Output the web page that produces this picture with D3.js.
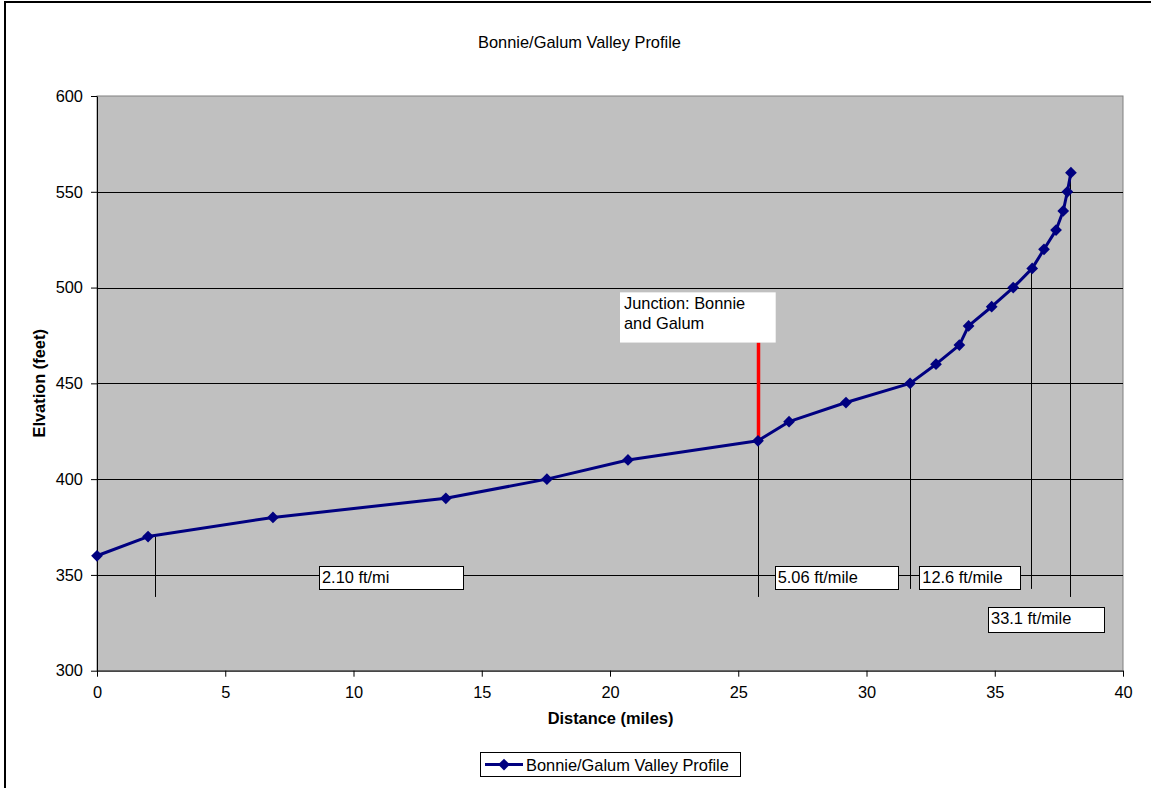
<!DOCTYPE html>
<html>
<head>
<meta charset="utf-8">
<script src="https://cdn.jsdelivr.net/npm/d3@7"></script>
<style>
  html, body { margin: 0; padding: 0; background: #fff; }
  svg { display: block; font-family: Arial, "Liberation Sans", sans-serif; }
</style>
</head>
<body>
<svg id="chart" width="1151" height="788"></svg>
<script>
// Valley profile: distance along the valley (miles) and elevation (feet)
const distance  = [0, 1.99, 6.86, 13.6, 17.54, 20.7, 25.77, 26.98, 29.2, 31.7, 32.71,
                   33.62, 33.98, 34.88, 35.72, 36.46, 36.92, 37.39, 37.67, 37.83, 37.97];
const elevation = [360, 370, 380, 390, 400, 410, 420, 430, 440, 450, 460,
                   470, 480, 490, 500, 510, 520, 530, 540, 550, 560];

const xTicks = [0, 5, 10, 15, 20, 25, 30, 35, 40];
const yTicks = [300, 350, 400, 450, 500, 550, 600];

// Gradient segment markers (miles, top elevation, bottom elevation)
const markerX   = [2.26, 25.77, 31.7, 36.42, 37.93];
const markerTop = [370, 420, 450, 510, 557];
const markerBot = [338.5, 338.5, 342.7, 342.7, 338.5];

// Gradient labels: text, left/right miles, top/bottom elevation
const slopeText  = ["2.10 ft/mi", "5.06 ft/mile", "12.6 ft/mile", "33.1 ft/mile"];
const slopeX0    = [8.655, 26.42, 32.06, 34.74];
const slopeX1    = [14.28, 31.2, 36.01, 39.27];
const slopeYTop  = [354.8, 354.8, 354.8, 333.4];
const slopeYBot  = [342.6, 342.6, 342.6, 320.4];

// Junction callout
const junctionLines = ["Junction: Bonnie", "and Galum"];
const junctionBox = { x0: 20.39, x1: 26.46, yTop: 497.5, yBot: 471.3 };
const junctionMile = 25.77, junctionElev = 420;

const seriesName = "Bonnie/Galum Valley Profile";

const svg = d3.select("#chart");
const FS = 16.4;

const x = d3.scaleLinear().domain([0, 40]).range([97, 1123]);
const y = d3.scaleLinear().domain([300, 600]).range([670.7, 96]);

// chart-area frame
svg.append("rect").attr("x", 5).attr("y", 2).attr("width", 1160).attr("height", 800)
  .attr("fill", "#fff").attr("stroke", "#000").attr("stroke-width", 2);

// title
svg.append("text").attr("x", 579.5).attr("y", 48.3).attr("text-anchor", "middle")
  .attr("font-size", FS).text(seriesName);

// plot area
svg.append("rect").attr("x", x(0)).attr("y", y(600))
  .attr("width", x(40) - x(0)).attr("height", y(300) - y(600))
  .attr("fill", "#c0c0c0").attr("stroke", "#808080").attr("stroke-width", 1);

// horizontal gridlines
svg.append("g").selectAll("line").data(yTicks.filter(d => d > 300 && d < 600)).join("line")
  .attr("x1", x(0)).attr("x2", x(40))
  .attr("y1", d => Math.round(y(d)) + 0.5).attr("y2", d => Math.round(y(d)) + 0.5)
  .attr("stroke", "#000").attr("stroke-width", 1);

// axes
const yAxis = svg.append("g").attr("transform", `translate(${x(0)},0)`)
  .call(d3.axisLeft(y).tickValues(yTicks).tickSizeInner(6).tickSizeOuter(0).tickPadding(8));
const xAxis = svg.append("g").attr("transform", `translate(0,${y(300)})`)
  .call(d3.axisBottom(x).tickValues(xTicks).tickSizeInner(6).tickSizeOuter(0).tickPadding(10));
[xAxis, yAxis].forEach(g => {
  g.selectAll("text").attr("font-size", FS).attr("font-family", "Arial, 'Liberation Sans', sans-serif").attr("fill", "#000");
  g.selectAll("path,line").attr("stroke", "#000");
});

// axis titles
svg.append("text").attr("x", 610.5).attr("y", 724).attr("text-anchor", "middle")
  .attr("font-size", FS).attr("font-weight", "bold").text("Distance (miles)");
svg.append("text").attr("transform", `translate(45,${(y(300) + y(600)) / 2}) rotate(-90)`)
  .attr("text-anchor", "middle").attr("font-size", FS).attr("font-weight", "bold").text("Elvation (feet)");

// gradient segment markers
svg.append("g").selectAll("line").data(markerX).join("line")
  .attr("x1", d => Math.round(x(d)) + 0.5).attr("x2", d => Math.round(x(d)) + 0.5)
  .attr("y1", (d, i) => y(markerTop[i])).attr("y2", (d, i) => y(markerBot[i]))
  .attr("stroke", "#000").attr("stroke-width", 1);

// junction pointer
svg.append("line")
  .attr("x1", x(junctionMile) + 0.5).attr("x2", x(junctionMile) + 0.5)
  .attr("y1", y(junctionElev)).attr("y2", y(junctionBox.yBot))
  .attr("stroke", "#ff0000").attr("stroke-width", 3.5);

// profile line and diamond markers
const pts = distance.map((d, i) => [d, elevation[i]]);
svg.append("path").datum(pts)
  .attr("d", d3.line().x(d => x(d[0])).y(d => y(d[1])))
  .attr("fill", "none").attr("stroke", "#000080").attr("stroke-width", 3)
  .attr("stroke-linejoin", "round");
const diamond = d3.symbol().type(d3.symbolDiamond2).size(88);
svg.append("g").selectAll("path").data(pts).join("path")
  .attr("transform", d => `translate(${x(d[0])},${y(d[1])})`)
  .attr("d", diamond).attr("fill", "#000080");

// gradient labels
const lab = svg.append("g").selectAll("g").data(slopeText).join("g");
lab.append("rect")
  .attr("x", (d, i) => Math.round(x(slopeX0[i])) + 0.5)
  .attr("y", (d, i) => Math.round(y(slopeYTop[i])) + 0.5)
  .attr("width", (d, i) => Math.round(x(slopeX1[i]) - x(slopeX0[i])))
  .attr("height", (d, i) => Math.round(y(slopeYBot[i]) - y(slopeYTop[i])))
  .attr("fill", "#fff").attr("stroke", "#000").attr("stroke-width", 1);
lab.append("text")
  .attr("x", (d, i) => x(slopeX0[i]) + 3)
  .attr("y", (d, i) => y(slopeYTop[i]) + 17)
  .attr("font-size", FS).text(d => d);

// junction callout
svg.append("rect")
  .attr("x", x(junctionBox.x0)).attr("y", y(junctionBox.yTop))
  .attr("width", x(junctionBox.x1) - x(junctionBox.x0))
  .attr("height", y(junctionBox.yBot) - y(junctionBox.yTop))
  .attr("fill", "#fff");
svg.append("text").selectAll("tspan").data(junctionLines).join("tspan")
  .attr("x", x(junctionBox.x0) + 4)
  .attr("y", (d, i) => y(junctionBox.yTop) + 17 + i * 20)
  .attr("font-size", FS).text(d => d);

// legend
const lg = svg.append("g");
lg.append("rect").attr("x", 480.5).attr("y", 752.5).attr("width", 260).attr("height", 24)
  .attr("fill", "#fff").attr("stroke", "#000").attr("stroke-width", 1);
lg.append("line").attr("x1", 485).attr("x2", 523).attr("y1", 764.5).attr("y2", 764.5)
  .attr("stroke", "#000080").attr("stroke-width", 3);
lg.append("path").attr("transform", "translate(504,764.5)").attr("d", diamond).attr("fill", "#000080");
lg.append("text").attr("x", 526).attr("y", 770.5).attr("font-size", FS).text(seriesName);
</script>
</body>
</html>
